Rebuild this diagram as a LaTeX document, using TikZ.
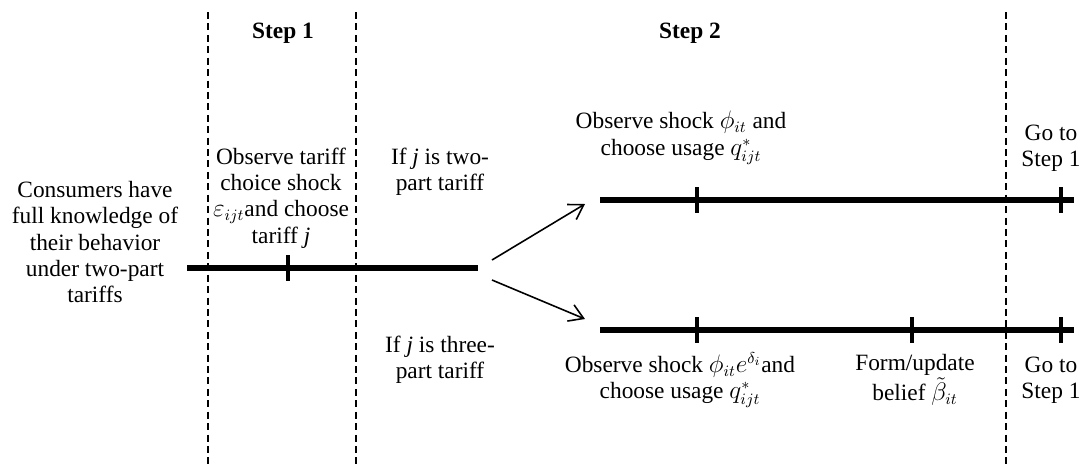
\documentclass[tikz,border=0pt]{standalone}
\usepackage{fontspec}
\setmainfont{Liberation Serif}
\usetikzlibrary{arrows.meta}

\begin{document}
\begin{tikzpicture}[x=0.02cm, y=-0.02cm,
    txt/.style={font=\fontsize{13.3}{15}\selectfont, align=center,
                inner sep=1pt},
    head/.style={font=\bfseries\fontsize{13.3}{15}\selectfont},
    phase/.style={dash pattern=on 4pt off 2.5pt, line width=0.7pt},
    timeline/.style={line width=3pt},
    tick/.style={line width=2.6pt},
    branch/.style={-{Straight Barb[length=8pt,width=10pt]}, line width=0.9pt}
  ]
    \useasboundingbox (0,0) rectangle (1082,468);

    % Phase borders
    \draw[phase] (208,12)  -- (208,466);
    \draw[phase] (356,12)  -- (356,466);
    \draw[phase] (1006,12) -- (1006,466);

    % Headings
    \node[head] (s1) at (283,33) {Step 1};
    \node[head] (s2) at (690,33) {Step 2};

    % Start
    \node[txt] (know) at (95,242)
      {Consumers have\\full knowledge of\\their behavior\\under two-part\\tariffs};
    % Tariff choice
    \node[txt] (tariff) at (281,198)
      {Observe tariff\\choice shock\\$\varepsilon_{ijt}$and choose\\tariff \textit{j}};
    % Branch labels
    \node[txt] (two)   at (440,172) {If \textit{j} is two-\\part tariff};
    \node[txt] (three) at (440,360) {If \textit{j} is three-\\part tariff};
    % Upper branch
    \node[txt] (useU) at (681,138)
      {Observe shock $\phi_{it}$ and\\choose usage $q^{*}_{ijt}$};
    \node[txt] (goU)  at (1051,148) {Go to\\Step 1};
    % Lower branch
    \node[txt] (useD) at (680,380)
      {Observe shock $\phi_{it}e^{\delta_i}$and\\choose usage $q^{*}_{ijt}$};
    \node[txt] (belief) at (915,380) {Form/update\\belief $\tilde{\beta}_{it}$};
    \node[txt] (goD)  at (1051,380) {Go to\\Step 1};

    % Time lines
    \coordinate (a0) at (187,268);
    \coordinate (a1) at (478,268);
    \coordinate (u0) at (600,200);
    \coordinate (u1) at (1074,200);
    \coordinate (d0) at (600,330);
    \coordinate (d1) at (1074,330);
    \draw[timeline] (a0) -- (a1);
    \draw[timeline] (u0) -- (u1);
    \draw[timeline] (d0) -- (d1);

    % Ticks
    \draw[tick] (288,255) -- (288,281);
    \draw[tick] (697,187) -- (697,213);
    \draw[tick] (1061,187) -- (1061,213);
    \draw[tick] (697,317) -- (697,343);
    \draw[tick] (912,317) -- (912,343);
    \draw[tick] (1061,317) -- (1061,343);

    % Branch arrows
    \coordinate (fu) at (492,260);
    \coordinate (fd) at (492,280);
    \coordinate (tu) at (585,204);
    \coordinate (td) at (585,319);
    \draw[branch] (fu) -- (tu);
    \draw[branch] (fd) -- (td);
  \end{tikzpicture}
\end{document}
